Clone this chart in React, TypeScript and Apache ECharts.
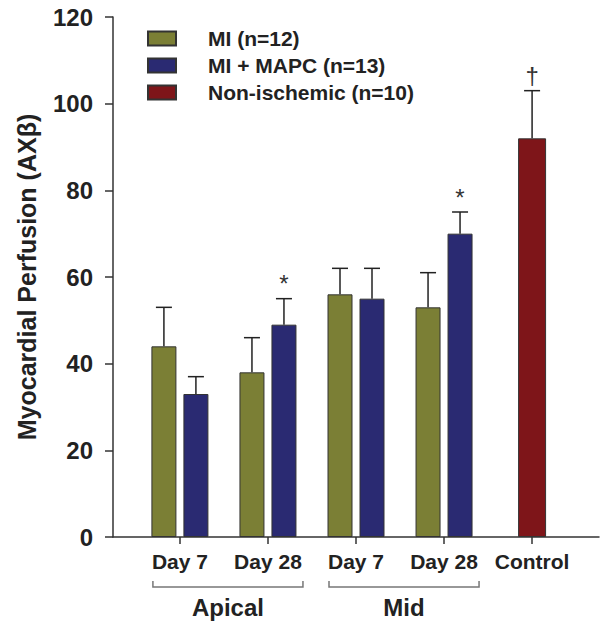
import React, { useEffect, useRef } from 'react';
import * as echarts from 'echarts';

const categories = ['Day 7', 'Day 28', 'Day 7', 'Day 28', 'Control'];
const categoryIdx = [0, 1, 2, 3];
const miName = 'MI (n=12)';
const mapcName = 'MI + MAPC (n=13)';
const ctrlName = 'Non-ischemic (n=10)';
const miMean = [44, 38, 56, 53];
const miErr = [9, 8, 6, 8];
const mapcMean = [33, 49, 55, 70];
const mapcErr = [4, 6, 7, 5];
const mapcMarks = ['', '*', '', '*'];
const ctrlIdx = [4];
const ctrlMean = [92];
const ctrlErr = [11];
const ctrlMarks = ['\u2020'];
const regionNames = ['Apical', 'Mid'];
const regionSpans = [[0, 1], [2, 3]];
const yTitle = 'Myocardial Perfusion (AX\u03b2)';

const FONT = '"Liberation Sans", Arial, sans-serif';
const C_MI = '#7b7f35';
const C_MAPC = '#2a2a72';
const C_CTRL = '#7e1519';
const BAR_W = 25;
const GAP = 7;
const CTRL_W = 28;

function errSeries(means: number[], errs: number[], marks: string[], xs: number[], dx: number, axisIdx: number) {
  return {
    type: 'custom',
    xAxisIndex: axisIdx,
    z: 5,
    silent: true,
    encode: { x: 0, y: 1 },
    data: means.map((m, i) => [xs[i], m, errs[i]]),
    renderItem: (params: any, api: any) => {
      const x = api.value(0);
      const m = api.value(1);
      const e = api.value(2);
      const base = api.coord([x, m]);
      const top = api.coord([x, m + e]);
      const cx = base[0] + dx;
      const ls = { stroke: '#222', lineWidth: 1.5 };
      const children: any[] = [
        { type: 'line', shape: { x1: cx, y1: base[1], x2: cx, y2: top[1] }, style: ls },
        { type: 'line', shape: { x1: cx - 8, y1: top[1], x2: cx + 8, y2: top[1] }, style: ls },
      ];
      const mk = marks[params.dataIndex];
      if (mk) {
        children.push({
          type: 'text',
          style: {
            text: mk, x: cx, y: top[1] - 3, fill: '#333', fontSize: 24, fontFamily: FONT,
            align: 'center', verticalAlign: 'bottom',
          },
        });
      }
      return { type: 'group', children };
    },
  };
}

export default function App() {
  const ref = useRef<HTMLDivElement>(null);
  useEffect(() => {
    if (!ref.current) return;
    const chart = echarts.init(ref.current, undefined, { renderer: 'svg' });
    const option: any = {
      animation: false,
      backgroundColor: '#fff',
      grid: { left: 113, right: 10, top: 17, bottom: 92, containLabel: false },
      legend: {
        data: [miName, mapcName, ctrlName],
        orient: 'vertical', left: 147, top: 28, padding: 0,
        itemWidth: 28, itemHeight: 14, itemGap: 6, icon: 'rect', selectedMode: false,
        textStyle: { fontSize: 21, fontWeight: 'bold', color: '#222', fontFamily: FONT, lineHeight: 21, padding: [0, 0, 0, 27] },
      },
      xAxis: [
        {
          type: 'value', min: -0.76, max: 4.76,
          axisLine: { show: true, onZero: false, lineStyle: { color: '#333', width: 1.5 } },
          splitLine: { show: false },
          axisTick: { show: true, customValues: [0, 1, 2, 3, 4], length: 7, lineStyle: { color: '#333', width: 1.5 } },
          axisLabel: {
            customValues: [0, 1, 2, 3, 4],
            formatter: (v: number) => categories[Math.round(v)] ?? '',
            fontSize: 21, fontWeight: 'bold', color: '#222', fontFamily: FONT, margin: 14,
          },
        },
        { type: 'value', min: -0.76, max: 4.76, show: false },
      ],
      yAxis: {
        type: 'value', min: 0, max: 120, interval: 20,
        name: yTitle, nameLocation: 'middle', nameGap: 74,
        nameTextStyle: { fontSize: 25, fontWeight: 'bold', color: '#222', fontFamily: FONT },
        axisLine: { show: true, onZero: false, lineStyle: { color: '#333', width: 1.5 } },
        splitLine: { show: false },
        axisTick: { show: true, length: 8, lineStyle: { color: '#333', width: 1.5 } },
        axisLabel: { fontSize: 24, fontWeight: 'bold', color: '#222', fontFamily: FONT, margin: 20 },
      },
      series: [
        {
          name: miName, type: 'bar', xAxisIndex: 0, barWidth: BAR_W, barGap: `${(GAP / BAR_W) * 100}%`,
          itemStyle: { color: C_MI, borderColor: '#333', borderWidth: 1 },
          data: miMean.map((v, i) => [categoryIdx[i], v]),
        },
        {
          name: mapcName, type: 'bar', xAxisIndex: 0, barWidth: BAR_W, barGap: `${(GAP / BAR_W) * 100}%`,
          itemStyle: { color: C_MAPC, borderColor: '#333', borderWidth: 1 },
          data: mapcMean.map((v, i) => [categoryIdx[i], v]),
        },
        {
          name: ctrlName, type: 'bar', xAxisIndex: 1, barWidth: CTRL_W,
          itemStyle: { color: C_CTRL, borderColor: '#333', borderWidth: 1 },
          data: ctrlMean.map((v, i) => [ctrlIdx[i], v]),
        },
        errSeries(miMean, miErr, ['', '', '', ''], categoryIdx, -(BAR_W + GAP) / 2, 0),
        errSeries(mapcMean, mapcErr, mapcMarks, categoryIdx, (BAR_W + GAP) / 2, 0),
        errSeries(ctrlMean, ctrlErr, ctrlMarks, ctrlIdx, 0, 1),
      ],
    };
    chart.setOption(option);

    const yB = 581;
    const graphics: any[] = [];
    regionNames.forEach((name, i) => {
      const [a, b] = regionSpans[i];
      const l = chart.convertToPixel({ xAxisIndex: 0 }, a) - 27;
      const r = chart.convertToPixel({ xAxisIndex: 0 }, b) + 35;
      graphics.push({
        type: 'polyline', silent: true,
        shape: { points: [[l, yB], [l, yB + 6], [r, yB + 6], [r, yB]] },
        style: { stroke: '#777', lineWidth: 1.5, fill: null },
      });
      graphics.push({
        type: 'text', silent: true, x: (l + r) / 2, y: 607,
        style: { text: name, fontSize: 24, fontWeight: 'bold', fill: '#222', fontFamily: FONT, align: 'center', verticalAlign: 'middle' },
      });
    });
    chart.setOption({ graphic: graphics });
    return () => chart.dispose();
  }, []);
  return <div ref={ref} style={{ position: 'fixed', left: 0, top: 0, width: 609, height: 629 }} />;
}
